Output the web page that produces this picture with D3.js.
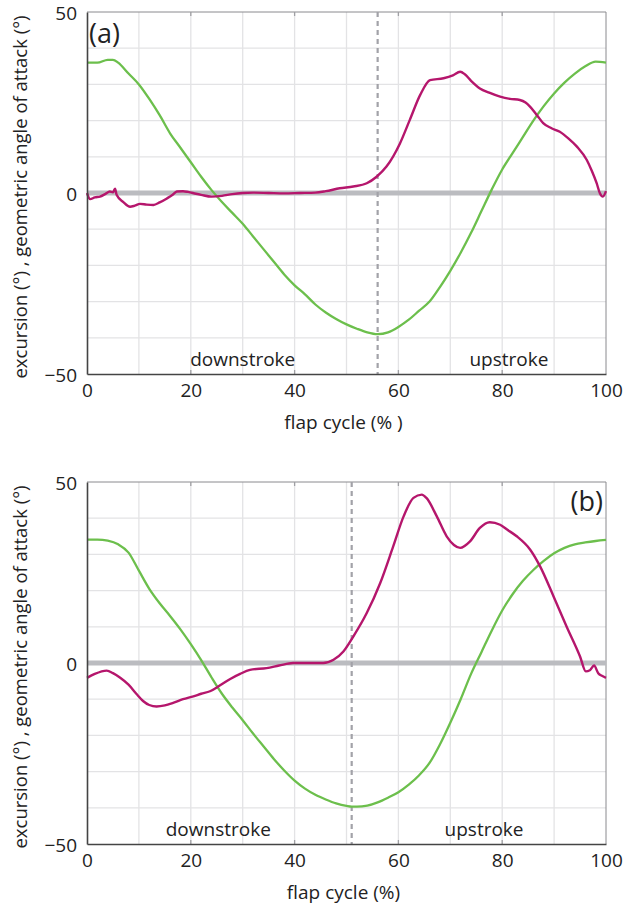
<!DOCTYPE html>
<html>
<head>
<meta charset="utf-8">
<script src="https://cdn.jsdelivr.net/npm/d3@7"></script>
<style>
  body { margin: 0; background: #fff; }
  svg { display: block; font-family: "Open Sans", "Noto Sans", sans-serif; }
</style>
</head>
<body>
<svg id="chart" width="625" height="908"></svg>
<script>
// ---- data ----
// panel (a)
var excursionA = [[0,36],[2,36],[4,36.8],[5,36.8],[6,36],[8,33],[10,30],[12,26],[14,21.5],[16,16.5],[18,12.5],[20,8.5],[22,4.5],[24,0.8],[26,-2.5],[28,-5.5],[30,-8.5],[32,-12],[34,-15.5],[36,-19],[38,-22.5],[40,-25.5],[42,-28],[44,-30.8],[46,-33],[48,-34.8],[50,-36.3],[52,-37.5],[54,-38.5],[56,-39],[58,-38.5],[60,-37],[62,-35],[64,-32.5],[66,-30],[68,-26],[70,-21.5],[72,-16.5],[74,-11],[76,-5],[78,1],[80,6.5],[82,11],[84,15.5],[86,20],[88,24],[90,27.5],[92,30.5],[94,33],[96,35],[98,36.3],[100,36]];
var attackA = [[0,0],[0.6,-1.7],[1.5,-1.2],[2.5,-1],[3.5,-0.3],[4.4,0.4],[5,0.2],[5.4,1.2],[5.7,-0.5],[7,-2.5],[8.3,-3.8],[9.2,-3.5],[10.2,-3],[11.5,-3.2],[12.8,-3.3],[14,-2.6],[15.4,-1.5],[16.5,-0.5],[17.3,0.4],[18.5,0.5],[19.5,0.3],[21,-0.2],[22,-0.5],[24,-1],[26,-0.8],[28,-0.3],[30,0],[32,0.1],[35,0],[38,-0.1],[41,0],[44,0.1],[46,0.5],[48.7,1.3],[51.3,1.8],[53.9,2.7],[55.8,4.5],[57.7,7.3],[60.3,13.7],[62.2,20.2],[64.2,27.1],[66.1,31.2],[68.7,31.7],[70.5,32.5],[71.9,33.5],[72.8,32.8],[74,31],[75.7,28.9],[77.5,27.7],[79.6,26.6],[81.5,26],[83.4,25.7],[84.5,25],[85.4,23.8],[86.7,21.5],[87.9,19.3],[89.5,17.9],[91.1,16.9],[92.8,15],[94.4,12.8],[96.3,9.1],[97.3,6],[98.2,2.7],[98.8,0],[99.4,-1],[100,0.5]];
var transitionA = 56;

// panel (b)
var excursionB = [[0,34.1],[2,34.1],[4,33.8],[6,32.8],[8,30.5],[10,25.5],[12,20.5],[14,16.5],[16,13],[18,9.3],[20,5.2],[22,0.8],[24,-4],[26,-8.5],[28,-12.3],[30,-15.8],[32,-19.5],[34,-23],[36,-26.5],[38,-29.7],[40,-32.5],[42,-34.7],[44,-36.4],[46,-37.7],[48,-38.8],[50,-39.5],[51,-39.7],[52,-39.7],[54,-39.4],[56,-38.5],[58,-37.2],[60,-35.7],[62,-33.6],[64,-31],[66,-27.6],[68,-22.5],[70,-16.5],[72,-10],[74,-3],[76,3],[78,9],[80,14.5],[82,19],[84,22.7],[86,25.7],[88,28.2],[90,30.3],[92,31.8],[94,32.8],[96,33.3],[98,33.7],[100,34]];
var attackB = [[0,-4.1],[1.5,-3],[3.8,-2.1],[5,-2.8],[6.4,-4.1],[8,-6],[9.5,-8.5],[10.8,-10.5],[12,-11.6],[13.4,-12],[15,-11.7],[16.6,-11],[18.5,-10],[20.5,-9.2],[22,-8.5],[23.7,-7.8],[25.5,-6.3],[27.6,-4.4],[29.5,-3],[31.4,-1.9],[34.6,-1.4],[37,-0.7],[39.7,0],[42,0],[45.5,0],[47.5,0.9],[49.4,3.2],[51.3,7.3],[53.9,13.8],[56.5,22.1],[59,32.2],[61,40.5],[62.9,45.6],[64.5,46.5],[65.4,45.6],[67.4,40.5],[69.3,35],[70.7,32.6],[71.9,31.8],[73.8,33.6],[75.7,37.3],[77.6,38.9],[79.6,38.2],[81,36.8],[82.8,35],[85.4,31.3],[87.3,26.7],[89.9,18.4],[92.4,10.1],[95,1.8],[96.1,-2.3],[96.9,-2],[97.7,-0.7],[98.5,-2.8],[99.3,-3.6],[100,-4.1]];
var transitionB = 51;

var xTicks = [0, 20, 40, 60, 80, 100];
var xGrid = [10, 20, 30, 40, 50, 60, 70, 80, 90];
var yTicks = [-50, 0, 50];
var yGrid = [-40, -30, -20, -10, 10, 20, 30, 40];
var yTitle = "excursion (°) , geometric angle of attack (°)";

var panels = [
  { top: 12, label: "(a)", labelSide: "left", xTitle: "flap cycle (% )",
    excursion: excursionA, attack: attackA, transition: transitionA,
    down: 30, up: 81.3 },
  { top: 482, label: "(b)", labelSide: "right", xTitle: "flap cycle (%)",
    excursion: excursionB, attack: attackB, transition: transitionB,
    down: 25.3, up: 76.5 }
];

var green = "#6cbf4c";
var magenta = "#b5166c";

var svg = d3.select("#chart");
var margin = { left: 87, right: 19 },
  width = 625 - margin.left - margin.right,
  height = 362;

var x = d3.scaleLinear().domain([0, 100]).range([0, width]);
var y = d3.scaleLinear().domain([-50, 50]).range([height, 0]);

var line = d3.line()
  .x(function(d) { return x(d[0]); })
  .y(function(d) { return y(d[1]); })
  .curve(d3.curveMonotoneX);

panels.forEach(function(p) {
  var g = svg.append("g").attr("transform", "translate(" + margin.left + "," + p.top + ")");

  // grid
  g.selectAll(".vg").data(xGrid).enter().append("line")
    .attr("x1", function(d) { return x(d); }).attr("x2", function(d) { return x(d); })
    .attr("y1", 0).attr("y2", height)
    .attr("stroke", "#e3e3e5").attr("stroke-width", 1.3);
  g.selectAll(".hg").data(yGrid).enter().append("line")
    .attr("y1", function(d) { return y(d); }).attr("y2", function(d) { return y(d); })
    .attr("x1", 0).attr("x2", width)
    .attr("stroke", "#e3e3e5").attr("stroke-width", 1.3);

  // frame (top and right)
  g.append("path")
    .attr("d", "M0,0H" + width + "V" + height)
    .attr("fill", "none").attr("stroke", "#8a8a8e").attr("stroke-width", 1);

  // small ticks on top and bottom edges
  g.selectAll(".tt").data(xTicks.slice(1, -1)).enter().append("line")
    .attr("x1", function(d) { return x(d); }).attr("x2", function(d) { return x(d); })
    .attr("y1", 0).attr("y2", 4)
    .attr("stroke", "#a0a0a4").attr("stroke-width", 1.3);
  g.selectAll(".bt").data(xTicks.slice(1, -1)).enter().append("line")
    .attr("x1", function(d) { return x(d); }).attr("x2", function(d) { return x(d); })
    .attr("y1", height - 4).attr("y2", height)
    .attr("stroke", "#a0a0a4").attr("stroke-width", 1.3);

  // zero line
  g.append("line")
    .attr("x1", 0).attr("x2", width)
    .attr("y1", y(0)).attr("y2", y(0))
    .attr("stroke", "#bbbcc0").attr("stroke-width", 5);

  // downstroke / upstroke transition
  g.append("line")
    .attr("x1", x(p.transition)).attr("x2", x(p.transition))
    .attr("y1", 0).attr("y2", height)
    .attr("stroke", "#a2a2a8").attr("stroke-width", 2.2)
    .attr("stroke-dasharray", "5,4");

  // curves
  g.append("path").datum(p.excursion)
    .attr("fill", "none").attr("stroke", green).attr("stroke-width", 2.3)
    .attr("stroke-linejoin", "round").attr("d", line);
  g.append("path").datum(p.attack)
    .attr("fill", "none").attr("stroke", magenta).attr("stroke-width", 2.4)
    .attr("stroke-linejoin", "round").attr("d", line);

  // axes
  var xAxis = g.append("g")
    .attr("transform", "translate(0," + height + ")")
    .call(d3.axisBottom(x).tickValues(xTicks).tickSize(0).tickPadding(10));
  xAxis.select(".domain").attr("stroke", "#444").attr("stroke-width", 1.6);
  xAxis.selectAll("text").attr("font-size", 19).attr("fill", "#222")
    .attr("font-family", "Open Sans, sans-serif");

  var yAxis = g.append("g")
    .call(d3.axisLeft(y).tickValues(yTicks).tickSize(0).tickPadding(10)
      .tickFormat(function(d) { return d < 0 ? "\u2212" + Math.abs(d) : d; }));
  yAxis.select(".domain").attr("stroke", "#444").attr("stroke-width", 1.6);
  yAxis.selectAll("text").attr("font-size", 19).attr("fill", "#222")
    .attr("font-family", "Open Sans, sans-serif").attr("dy", "0.4em");

  // phase labels
  g.append("text").attr("x", x(p.down)).attr("y", height - 8)
    .attr("text-anchor", "middle").attr("font-size", 19).attr("fill", "#222")
    .text("downstroke");
  g.append("text").attr("x", x(p.up)).attr("y", height - 8)
    .attr("text-anchor", "middle").attr("font-size", 19).attr("fill", "#222")
    .text("upstroke");

  // panel label
  g.append("text")
    .attr("x", p.labelSide === "left" ? 2 : width - 3)
    .attr("y", p.labelSide === "left" ? 31 : 29)
    .attr("text-anchor", p.labelSide === "left" ? "start" : "end")
    .attr("font-size", 27).attr("fill", "#222")
    .text(p.label);

  // axis titles
  g.append("text")
    .attr("x", width / 2 - 3).attr("y", height + 55)
    .attr("text-anchor", "middle").attr("font-size", 19).attr("fill", "#222")
    .text(p.xTitle);
  g.append("text")
    .attr("transform", "translate(" + (-60) + "," + (height / 2 + 4) + ") rotate(-90)")
    .attr("text-anchor", "middle").attr("font-size", 18.5).attr("fill", "#222")
    .text(yTitle);
});
</script>
</body>
</html>
